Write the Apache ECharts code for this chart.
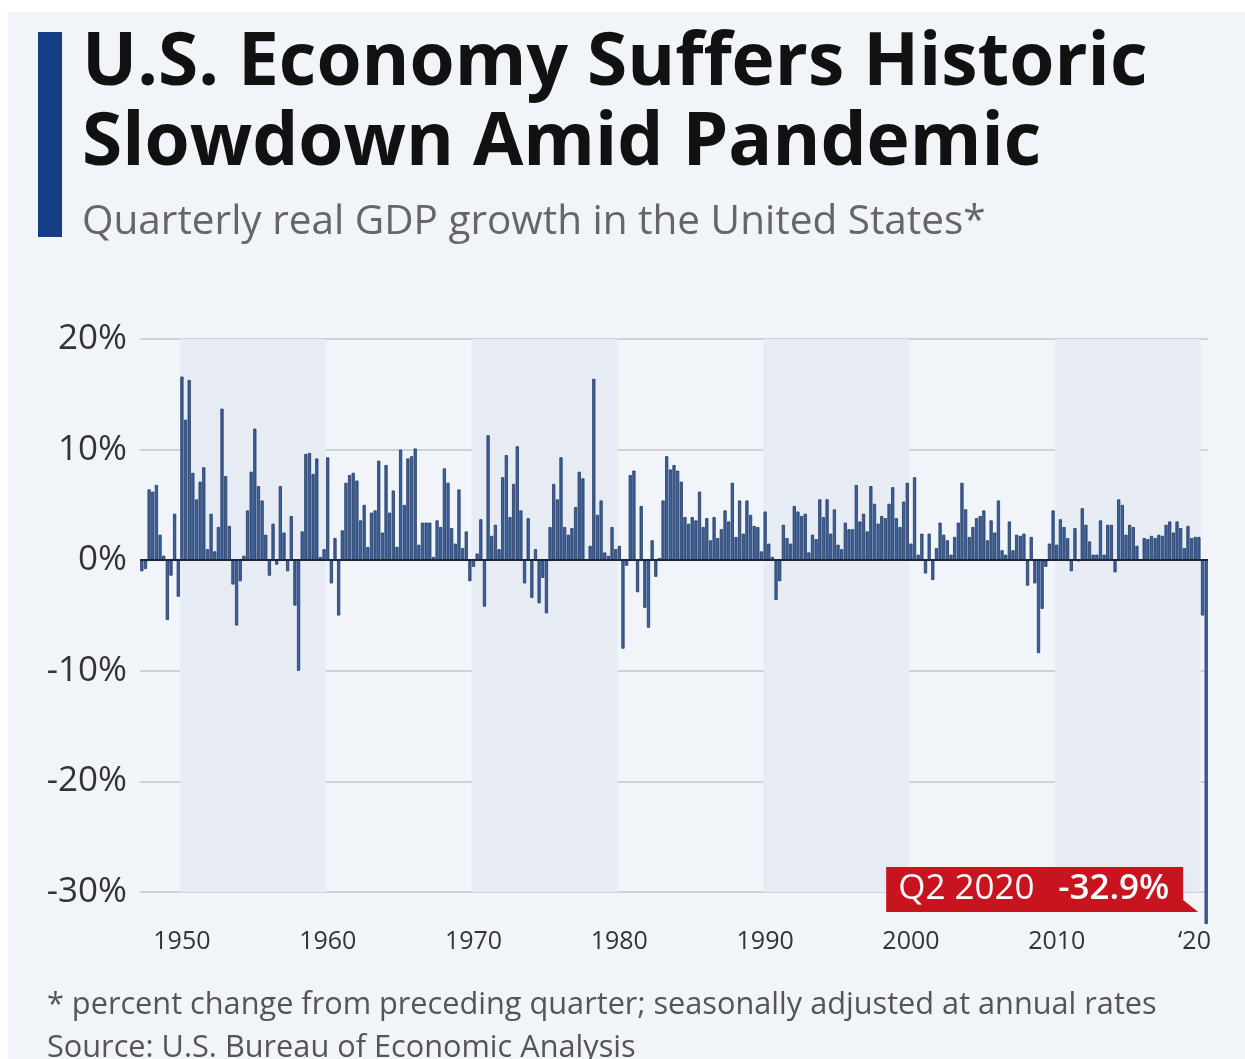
<!DOCTYPE html>
<html>
<head>
<meta charset="utf-8">
<script src="https://cdn.jsdelivr.net/npm/echarts@6/dist/echarts.min.js"></script>
<style>
  html, body { margin: 0; padding: 0; background: #ffffff; }
  #gdpChart { position: absolute; left: 8px; top: 12px; width: 1237px; height: 1047px; }
</style>
</head>
<body>
<div id="gdpChart"></div>
<script>
// quarterly real GDP growth in %, annual rate, 1947 Q2 .. 2020 Q2
const gdp1940s = [-1.0, -0.8, 6.4, 6.2, 6.8, 2.3, 0.4, -5.4, -1.4, 4.2, -3.3]
const gdp1950s = [16.6, 12.7, 16.3, 7.9, 5.5, 7.1, 8.4, 1.0, 4.2, 0.8, 3.0, 13.7,
  7.6, 3.1, -2.2, -5.9, -1.9, 0.4, 4.5, 8.0, 11.9, 6.7, 5.4, 2.3,
  -1.4, 3.3, -0.4, 6.7, 2.5, -1.0, 4.0, -4.1, -10.0, 2.6, 9.6, 9.7,
  7.8, 9.2, 0.3, 1.0]
const gdp1960s = [9.3, -2.1, 2.0, -5.0, 2.7, 7.0, 7.7, 7.9, 7.2, 3.6, 5.0, 1.2,
  4.3, 4.5, 9.0, 2.5, 8.6, 4.3, 6.3, 1.2, 10.0, 5.0, 9.2, 9.4,
  10.1, 1.4, 3.4, 3.4, 3.4, 0.3, 3.6, 3.0, 8.3, 7.0, 2.9, 1.5,
  6.4, 1.1, 2.6, -1.9]
const gdp1970s = [-0.6, 0.6, 3.7, -4.2, 11.3, 2.2, 3.2, 1.0, 7.5, 9.5, 3.9, 6.9,
  10.3, 4.5, -2.1, 3.8, -3.4, 1.0, -3.9, -1.6, -4.8, 3.0, 6.9, 5.5,
  9.3, 3.0, 2.3, 2.9, 4.8, 8.0, 7.4, 0.1, 1.3, 16.4, 4.1, 5.4,
  0.7, 0.4, 3.0, 1.0]
const gdp1980s = [1.3, -8.0, -0.5, 7.7, 8.1, -2.9, 4.9, -4.3, -6.1, 1.8, -1.5, 0.2,
  5.4, 9.4, 8.2, 8.6, 8.1, 7.1, 3.9, 3.3, 3.9, 3.6, 6.2, 3.0,
  3.8, 1.8, 3.9, 2.0, 2.8, 4.5, 3.5, 7.0, 2.1, 5.4, 2.4, 5.4,
  4.1, 3.1, 3.0, 0.8]
const gdp1990s = [4.4, 1.5, 0.3, -3.6, -1.9, 3.2, 2.0, 1.5, 4.9, 4.4, 4.0, 4.2,
  0.7, 2.3, 1.9, 5.5, 3.9, 5.5, 2.4, 4.6, 1.4, 1.0, 3.4, 2.8,
  2.8, 6.8, 3.5, 4.2, 2.6, 6.7, 5.1, 3.3, 4.0, 3.8, 5.1, 6.6,
  3.8, 3.0, 5.3, 7.0]
const gdp2000s = [1.5, 7.5, 0.5, 2.4, -1.2, 2.4, -1.8, 1.1, 3.4, 2.3, 1.8, 0.5,
  2.1, 3.4, 7.0, 4.6, 2.1, 3.0, 3.8, 4.0, 4.5, 1.8, 3.6, 2.5,
  5.4, 0.9, 0.5, 3.5, 0.9, 2.3, 2.2, 2.4, -2.3, 2.1, -2.1, -8.4,
  -4.4, -0.6, 1.5, 4.5]
const gdp2010s = [1.4, 3.7, 3.0, 2.0, -1.0, 2.9, -0.1, 4.7, 3.2, 1.7, 0.5, 0.5,
  3.6, 0.5, 3.2, 3.2, -1.1, 5.5, 5.0, 2.3, 3.2, 3.0, 1.3, 0.1,
  2.0, 1.9, 2.2, 2.0, 2.3, 2.2, 3.2, 3.5, 2.5, 3.5, 2.9, 1.1,
  3.1, 2.0, 2.1, 2.1]
const gdp2020s = [-5.0, -32.9]

const firstYear = 1947
const firstQuarter = 2
const decadeTicks = ['1950', '1960', '1970', '1980', '1990', '2000', '2010', '2020']
const decadeLabels = ['1950', '1960', '1970', '1980', '1990', '2000', '2010', '‘20']
const calloutQuarter = '2020 Q2'
const calloutValue = -32.9

const growth = [].concat(gdp1940s, gdp1950s, gdp1960s, gdp1970s, gdp1980s, gdp1990s, gdp2000s, gdp2010s, gdp2020s)
const quarters = []
for (let i = 0; i < growth.length; i++) {
  const n = firstQuarter - 1 + i
  quarters.push(firstYear + Math.floor(n / 4) + ' Q' + (n % 4 + 1))
}

// only the first quarter of each decade gets a label / band edge
function isDecadeTick(idx, name) {
  return name.slice(-2) === 'Q1' && decadeTicks.indexOf(name.slice(0, 4)) !== -1
}

const chart = echarts.init(document.getElementById('gdpChart'))
const option = {
  backgroundColor: '#f1f4f9',
  animation: false,
  textStyle: { fontFamily: 'Open Sans' },
  grid: { left: 132, top: 327, width: 1068, height: 553 },
  xAxis: {
    type: 'category',
    data: quarters,
    boundaryGap: true,
    axisLine: { show: false },
    axisTick: { show: false },
    axisLabel: {
      interval: isDecadeTick,
      formatter: function (v) {
        const i = decadeTicks.indexOf(v.slice(0, 4))
        // last label is the short form, nudged left like the original
        return i === decadeTicks.length - 1 ? '{end|' + decadeLabels[i] + '}' : decadeLabels[i]
      },
      fontSize: 25,
      color: '#333333',
      margin: 37,
      rich: {
        end: { fontSize: 25, color: '#333333', padding: [0, 16, 0, 0] }
      }
    },
    splitLine: { show: false },
    splitArea: {
      show: true,
      interval: isDecadeTick,
      areaStyle: { color: ['rgba(0,0,0,0)', '#e7ecf4'] }
    }
  },
  yAxis: {
    type: 'value',
    min: -30,
    max: 20,
    interval: 10,
    axisLine: { show: false },
    axisTick: { show: false },
    axisLabel: { formatter: '{value}%', fontSize: 35, color: '#333333', margin: 13 },
    splitLine: { lineStyle: { color: '#cdd1d8', width: 2 } }
  },
  series: [
    {
      type: 'bar',
      data: growth,
      barWidth: 3.2,
      clip: false,
      itemStyle: { color: '#3a62a3', borderColor: '#25395a', borderWidth: 0.8 },
      markLine: {
        silent: true,
        symbol: 'none',
        label: { show: false },
        lineStyle: { color: '#1e2633', width: 2, type: 'solid' },
        data: [{ yAxis: 0 }]
      }
    }
  ],
  graphic: [
    { type: 'rect', z: 100, shape: { x: 30, y: 20, width: 24, height: 205 }, style: { fill: '#163e86' } },
    {
      type: 'text', z: 100, x: 74, y: 52,
      style: { text: 'U.S. Economy Suffers Historic', font: 'bold 73px "Open Sans"', fill: '#111111', verticalAlign: 'middle' }
    },
    {
      type: 'text', z: 100, x: 74, y: 132,
      style: { text: 'Slowdown Amid Pandemic', font: 'bold 73px "Open Sans"', fill: '#111111', verticalAlign: 'middle' }
    },
    {
      type: 'text', z: 100, x: 74, y: 210,
      style: { text: 'Quarterly real GDP growth in the United States*', font: '40.5px "Open Sans"', fill: '#666666', verticalAlign: 'middle' }
    },
    {
      type: 'text', z: 100, x: 39, y: 993,
      style: { text: '* percent change from preceding quarter; seasonally adjusted at annual rates', font: '30.7px "Open Sans"', fill: '#555555', verticalAlign: 'middle' }
    },
    {
      type: 'text', z: 100, x: 39, y: 1036,
      style: { text: 'Source: U.S. Bureau of Economic Analysis', font: '30.7px "Open Sans"', fill: '#555555', verticalAlign: 'middle' }
    }
  ]
}
chart.setOption(option)

// callout flag anchored to the end of the Q2 2020 bar
const tip = chart.convertToPixel({ seriesIndex: 0 }, [calloutQuarter, calloutValue])
chart.setOption({
  graphic: option.graphic.concat([
    {
      type: 'polygon',
      z: 100,
      shape: {
        points: [
          [tip[0] - 320, tip[1] - 57],
          [tip[0] - 23, tip[1] - 57],
          [tip[0] - 23, tip[1] - 24],
          [tip[0] - 8, tip[1] - 12],
          [tip[0] - 320, tip[1] - 12]
        ]
      },
      style: { fill: '#c8141e' }
    },
    {
      type: 'text', z: 101, x: tip[0] - 308, y: tip[1] - 35,
      style: { text: 'Q2 2020', font: '35px "Open Sans"', fill: '#ffffff', verticalAlign: 'middle' }
    },
    {
      type: 'text', z: 101, x: tip[0] - 148, y: tip[1] - 35,
      style: { text: '-32.9%', font: '600 35px "Open Sans"', fill: '#ffffff', verticalAlign: 'middle' }
    }
  ])
})
</script>
</body>
</html>
